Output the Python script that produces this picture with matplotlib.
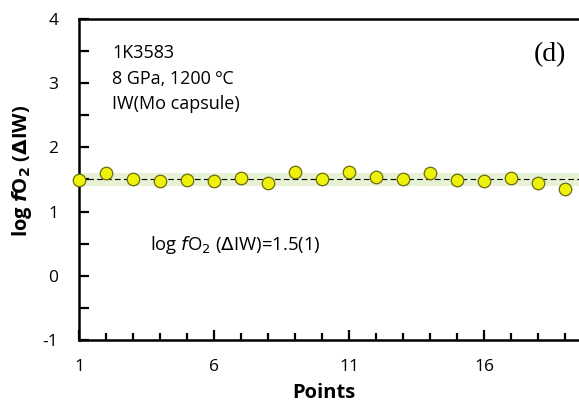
import numpy as np
import matplotlib
matplotlib.use("Agg")
import matplotlib.pyplot as plt
from matplotlib.ticker import MultipleLocator

# data
points = np.arange(1, 20)
log_fo2 = [1.49, 1.60, 1.50, 1.48, 1.49, 1.47, 1.53, 1.45, 1.61, 1.50,
           1.62, 1.54, 1.50, 1.60, 1.49, 1.47, 1.52, 1.44, 1.35]
mean_value = 1.5
band_low, band_high = 1.4, 1.6
x_ticks = [1, 6, 11, 16]
y_ticks = [-1, 0, 1, 2, 3, 4]
info_lines = ["1K3583", "8 GPa, 1200 \u00baC", "IW(Mo capsule)"]

plt.rcParams['font.family'] = ['Open Sans', 'DejaVu Sans']

fig = plt.figure(figsize=(5.79, 4.09), dpi=100)
ax = fig.add_axes([0.1364, 0.1687, 0.88, 0.785])

ax.axhspan(band_low, band_high, color='#e6f2d3', zorder=0, lw=0)
ax.axhline(mean_value, color='k', linestyle=(0, (5, 3)), linewidth=0.8, zorder=1)
ax.plot(points, log_fo2, 'o', markersize=9, markerfacecolor='#eef20a',
        markeredgecolor='#6b6b10', markeredgewidth=0.9, zorder=3, clip_on=False)

ax.set_xlim(1, 19.87)
ax.set_ylim(-1, 4)
ax.set_xticks(x_ticks)
ax.set_yticks(y_ticks)
ax.set_yticklabels([str(v) for v in y_ticks])
ax.xaxis.set_minor_locator(MultipleLocator(1))
ax.yaxis.set_minor_locator(MultipleLocator(0.5))
ax.tick_params(axis='both', which='both', direction='in', labelsize=12.5,
               width=1.6, top=False, right=False)
ax.tick_params(axis='y', which='major', length=7, pad=15)
ax.tick_params(axis='y', which='minor', length=7)
ax.tick_params(axis='x', which='major', length=7, pad=14)
ax.tick_params(axis='x', which='minor', length=5)

for side in ['left', 'bottom', 'top']:
    ax.spines[side].set_linewidth(1.8)
ax.spines['right'].set_visible(False)

ax.set_xlabel('Points', fontsize=14.5, fontweight='bold')
ax.xaxis.set_label_coords(0.48, -0.135)
ax.set_ylabel(r'log $\mathbfit{f}$O$_\mathbf{2}$ ($\mathbf{\Delta}$IW)', fontsize=14.5,
              fontweight='bold')
ax.yaxis.set_label_coords(-0.088, 0.527)

ax.text(112 / 579, 1 - 44 / 409, "\n".join(info_lines), transform=fig.transFigure,
        fontsize=13, va='top', ha='left', linespacing=1.55)
ax.text(0.924, 0.888, '(d)', transform=ax.transAxes, fontsize=20,
        family='Liberation Serif', ha='center', va='center')
ax.text(0.139, 0.296, r'log $\it{f}$O$_2$ ($\Delta$IW)=1.5(1)', transform=ax.transAxes,
        fontsize=13.3, ha='left', va='center')

fig.savefig('out.png', dpi=100)
